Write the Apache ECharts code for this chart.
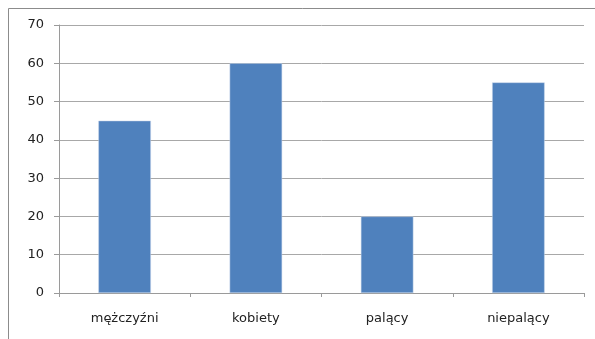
<!DOCTYPE html>
<html>
<head>
<meta charset="utf-8">
<script src="https://cdn.jsdelivr.net/npm/echarts@6/dist/echarts.min.js"></script>
<style>
    html, body { margin: 0; padding: 0; background: #fff; }
    #chart { width: 595px; height: 339px; }
</style>
</head>
<body>
<div id="chart"></div>
<script>
var categories = ['mężczyźni', 'kobiety', 'palący', 'niepalący'];
var values = [45, 60, 20, 55];
var yTicks = [0, 10, 20, 30, 40, 50, 60, 70];

var chart = echarts.init(document.getElementById('chart'));
var option = {
    animation: false,
    backgroundColor: '#fff',
    // ramka wokół wykresu
    graphic: [{
        type: 'rect',
        shape: { x: 8.5, y: 8.5, width: 620, height: 360 },
        style: { fill: 'none', stroke: '#8c8c8c', lineWidth: 1 },
        silent: true
    }],
    grid: {
        left: 59,
        right: 11,
        top: 25,
        bottom: 46
    },
    xAxis: {
        type: 'category',
        data: categories,
        axisLine: { lineStyle: { color: '#9a9a9a' } },
        axisTick: { show: true, length: 4, lineStyle: { color: '#9a9a9a' } },
        axisLabel: {
            color: '#222',
            fontFamily: 'DejaVu Sans',
            fontSize: 13,
            margin: 19
        }
    },
    yAxis: {
        type: 'value',
        min: yTicks[0],
        max: yTicks[yTicks.length - 1],
        interval: 10,
        axisLine: { show: true, lineStyle: { color: '#9a9a9a' } },
        axisTick: { show: true, length: 5, lineStyle: { color: '#9a9a9a' } },
        axisLabel: {
            color: '#222',
            fontFamily: 'DejaVu Sans',
            fontSize: 13,
            margin: 15
        },
        splitLine: { lineStyle: { color: '#a8a8a8' } }
    },
    series: [{
        type: 'bar',
        data: values,
        barWidth: '40%',
        itemStyle: {
            color: '#4f81bd',
            borderColor: '#c9d7ea',
            borderWidth: 0.5
        }
    }]
};
chart.setOption(option);
</script>
</body>
</html>
